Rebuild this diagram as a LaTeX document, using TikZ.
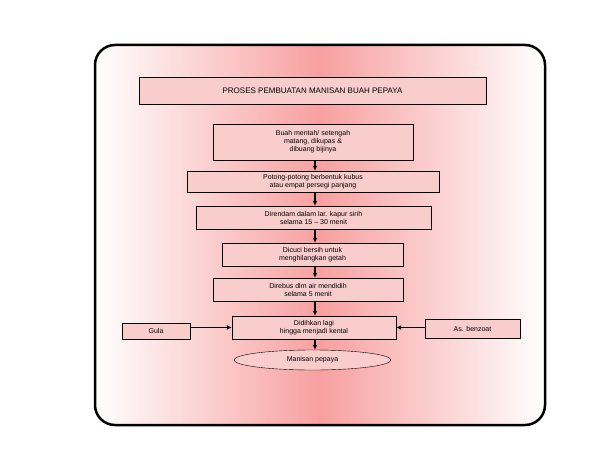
\documentclass[tikz,border=0pt]{standalone}
\usepackage{fontspec}
\setmainfont{Liberation Sans}
\usetikzlibrary{shapes.geometric,arrows.meta}
\definecolor{boxpink}{RGB}{250,205,205}
\definecolor{midpink}{RGB}{248,160,160}
\tikzset{
  stepbox/.style = {draw=black, fill=boxpink, align=center, font=\fontsize{7}{8}\selectfont, inner sep=1pt},
  flow/.style = {-{Latex[length=5pt,width=5pt]}, line width=1.3pt},
}
\begin{document}
\begin{tikzpicture}[x=1pt,y=-1pt]
\useasboundingbox (0,0) rectangle (612,468);
% background card
\begin{scope}
  \clip[rounded corners=20pt] (95,45) rectangle (545,425);
  \shade[left color=white, right color=midpink] (95,45) rectangle (320,425);
  \shade[left color=midpink, right color=white] (320,45) rectangle (545,425);
\end{scope}
\draw[line width=2.5pt, rounded corners=20pt] (95,45) rectangle (545,425);

\node[stepbox, minimum width=347pt, minimum height=27pt, font=\fontsize{8}{9}\selectfont] (title) at (312.5,90.5) {PROSES PEMBUATAN MANISAN BUAH PEPAYA};
\node[stepbox, minimum width=200pt, minimum height=36pt] (buah) at (313,142) {Buah mentah/ setengah\\ matang, dikupas \&\\ dibuang bijinya};
\node[stepbox, minimum width=252pt, minimum height=21pt] (potong) at (313,181.5) {Potong-potong berbentuk kubus\\ atau empat persegi panjang};
\node[stepbox, minimum width=235pt, minimum height=23pt] (rendam) at (313.5,217.5) {Direndam dalam lar. kapur sirih\\ selama 15 -- 30 menit};
\node[stepbox, minimum width=181pt, minimum height=23pt] (cuci) at (312.5,254.5) {Dicuci bersih untuk\\ menghilangkan getah};
\node[stepbox, minimum width=190pt, minimum height=23pt] (rebus) at (308,289.5) {Direbus dlm air mendidih\\ selama 5 menit};
\node[stepbox, minimum width=164pt, minimum height=23pt] (didih) at (314,327.5) {Didihkan lagi\\ hingga menjadi kental};
\node[stepbox, minimum width=68pt, minimum height=16pt] (gula) at (156,331) {Gula};
\node[stepbox, minimum width=95pt, minimum height=19pt] (benzoat) at (472.5,328.5) {As. benzoat};
\node[stepbox, ellipse, minimum width=157pt, minimum height=20pt] (hasil) at (312.5,360) {Manisan pepaya};

\draw[flow] (buah.south -| 315,0) -- (potong.north -| 315,0);
\draw[flow] (potong.south -| 315,0) -- (rendam.north -| 315,0);
\draw[flow] (rendam.south -| 315,0) -- (cuci.north -| 315,0);
\draw[flow] (cuci.south -| 315,0) -- (rebus.north -| 315,0);
\draw[flow] (rebus.south -| 315,0) -- (didih.north -| 315,0);
\draw[flow] (didih.south -| 315,0) -- (hasil.north -| 315,0);
\draw[flow] (gula.east |- didih) -- (didih.west);
\draw[flow] (benzoat.west |- didih) -- (didih.east);
\end{tikzpicture}
\end{document}
